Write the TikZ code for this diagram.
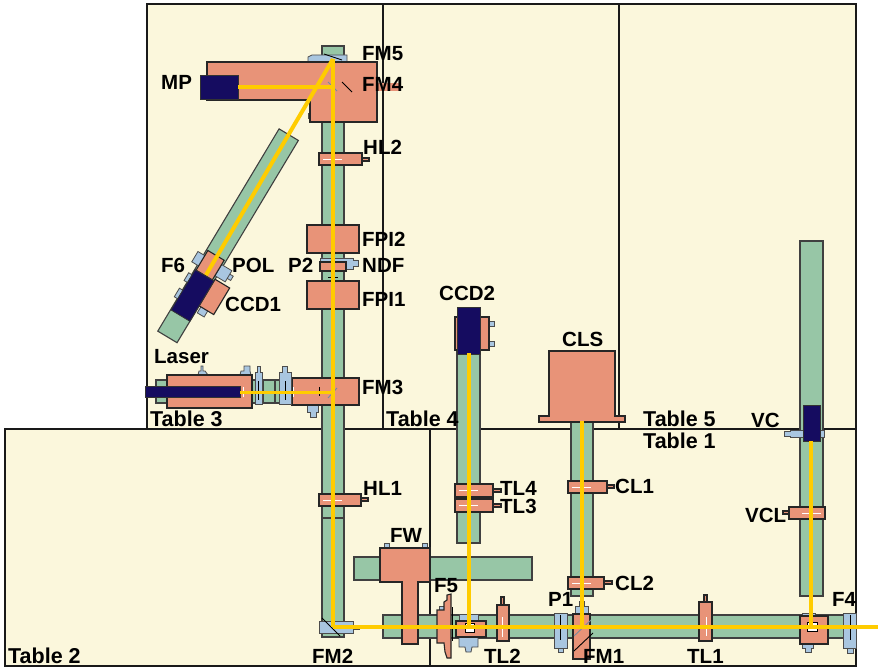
\documentclass[tikz,border=0pt]{standalone}
\usepackage{fontspec}
\setmainfont{Liberation Sans}
\usepackage{tikz}
\usetikzlibrary{positioning}

\definecolor{tablecol}{HTML}{FBF7DC}
\definecolor{railcol}{HTML}{97C6A6}
\definecolor{optcol}{HTML}{E89378}
\definecolor{mountcol}{HTML}{A9C6E0}
\definecolor{camcol}{HTML}{150C60}
\definecolor{beamcol}{HTML}{FFCC00}

\begin{document}
\begin{tikzpicture}[
        x=1pt, y=-1pt,
        line join=miter,
        tablebox/.style={draw=black!90, fill=tablecol, line width=1.2pt},
        rail/.style={draw=black!75, fill=railcol, line width=1.1pt},
        optic/.style={draw=black!85, fill=optcol, line width=1.1pt},
        mount/.style={draw=black!70, fill=mountcol, line width=.8pt},
        camera/.style={draw=black!80, fill=camcol, line width=.8pt},
        glint/.style={draw=white, line width=.8pt},
        mirror/.style={draw=black, line width=.9pt},
        shadow/.style={draw=black!30!mountcol, line width=.9pt},
        beam/.style={draw=beamcol, line width=4pt},
        lbl/.style={anchor=base west, inner sep=0pt, font=\fontsize{20.5}{21}\selectfont\bfseries},
        tablelbl/.style={lbl, font=\fontsize{21.5}{22}\selectfont\bfseries}
    ]
\useasboundingbox (0,0) rectangle (878,668);

% --- tables ---
\draw[tablebox] (147,4) rectangle (383,429);
\draw[tablebox] (383,4) rectangle (619,429);
\draw[tablebox] (619,4) rectangle (856,429);
\draw[tablebox] (5,429) rectangle (430,666);
\draw[tablebox] (430,429) rectangle (856,666);

% --- rails ---
\draw[rail] (322,46) rectangle (344,637);
\draw[rail] (322,518) -- (344,518);
\draw[rail] (156,380) rectangle (330,403);
\draw[rail] (263,380) -- (263,403) (275,380) -- (275,403);
\draw[rail] (457,350) rectangle (480,543);
\draw[rail] (571,421) rectangle (593,596);
\draw[rail] (800,241) rectangle (823,596);
\draw[rail] (354,557) rectangle (532,580);
\draw[rail] (383,615) rectangle (852,638);

% --- arm with CCD1 (tilted) ---
\begin{scope}[shift={(206,275)}, cm={.857,-.514,-.514,-.857,(0,0)}]
    \draw[rail] (-12.5,-73) rectangle (10,163);
    \draw[mount] (-19,4) rectangle (-10,16);
    \draw[mount] (8,4) rectangle (20,17) (20,8) rectangle (24,13);
    \draw[mount] (-16,-16) rectangle (-12,-7);
    \draw[mount] (-16,-35) rectangle (-12,-25);
    \draw[mount] (12,-37) rectangle (20,-29);
    \draw[optic] (-11,-1) rectangle (8,22);
    \draw[optic] (10,-30) rectangle (27,1);
    \draw[camera] (-12,-48) rectangle (10,-1);
\end{scope}

% --- top of main rail: FM5, FM4, MP ---
\draw[mount] (308,57) -- (312,55) -- (347,55) -- (347,62) -- (308,62) -- cycle;
\draw[mount] (308,113) rectangle (312,118);
\fill[optcol] (377,83) rectangle (401,91);
\draw[optic] (207,62) -- (377,62) -- (377,122) -- (310,122) -- (310,100) -- (207,100) -- cycle;
\draw[mirror] (324,54) -- (342,60);
\draw[mirror] (342,82) -- (352,92);
\draw[shadow] (328,82) -- (337,91);
\draw[camera] (200,75) rectangle (238,99);

% --- main rail optics ---
\draw[optic] (362,158) rectangle (369,161);
\draw[optic] (319,153) rectangle (362,165);
\draw[glint] (323,159) -- (342,159);
\draw[optic] (307,225) rectangle (359,253);
\draw[mount] (320,258) -- (353,258) -- (353,260) -- (358,260) -- (358,266) -- (353,266) -- (353,269) -- (346,269) -- (346,263) -- (320,263) -- cycle;
\draw[optic] (320,262) rectangle (346,271);
\draw[mirror] (328,277) -- (338,277);
\draw[optic] (307,281) rectangle (359,309);
\draw[optic] (361,498) rectangle (368,501);
\draw[optic] (319,494) rectangle (361,506);
\draw[glint] (323,500) -- (342,500);

% --- laser and FM3 ---
\draw[mount] (307,405) -- (318,405) -- (318,412) -- (316,412) -- (316,417) -- (310,417) -- (310,412) -- (307,412) -- cycle;
\draw[mount] (198,375) -- (199,371) -- (201,371) -- (201,366) -- (203,366) -- (203,371) -- (205,371) -- (208,375) -- cycle;
\draw[mount] (240,375) -- (241,371) -- (244,371) -- (244,366) -- (250,366) -- (250,371) -- (251,375) -- cycle;
\draw[optic] (167,375) rectangle (252,408);
\draw[optic] (292,378) rectangle (359,405);
\draw[mount] (257,366) -- (260,366) -- (260,372) -- (262,372) -- (262,404) -- (255,404) -- (255,372) -- (257,372) -- cycle;
\draw[mount] (282,366) -- (287,366) -- (287,372) -- (291,372) -- (291,404) -- (279,404) -- (279,372) -- (282,372) -- cycle;
\draw[mirror] (258.5,381) -- (258.5,400) (285,381) -- (285,400);
\draw[mirror] (319,387) -- (319,396);
\draw[shadow] (328,398) -- (337,388);
\draw[glint] (243,387) -- (243,397) (293,387) -- (293,397);
\draw[camera] (145,386) rectangle (240,397);

% --- CCD2 and TL3, TL4 ---
\draw[mount] (489,321) rectangle (494,326) (489,341) rectangle (494,346);
\draw[optic] (455,317) rectangle (489,350);
\draw[camera] (457,307) rectangle (480,354);
\foreach \ypos in {484,499} {
    \draw[optic] (493,\ypos+5) rectangle (501,\ypos+8);
    \draw[optic] (455,\ypos) rectangle (493,\ypos+13);
    \draw[glint] (459,\ypos+6) -- (478,\ypos+6);
}

% --- CLS, CL1, CL2 ---
\draw[optic] (549,351) -- (615,351) -- (615,416) -- (625,416) -- (625,422) -- (539,422) -- (539,416) -- (549,416) -- cycle;
\draw[optic] (607,485) rectangle (614,488);
\draw[optic] (568,481) rectangle (607,493);
\draw[glint] (572,487) -- (591,487);
\draw[optic] (604,581) rectangle (612,584);
\draw[optic] (568,577) rectangle (604,589);
\draw[glint] (572,583) -- (591,583);

% --- VC, VCL ---
\draw[mount] (784,431) -- (790,431) -- (790,430) -- (824,430) -- (824,437) -- (790,437) -- (790,436) -- (784,436) -- cycle;
\draw[camera] (803,405) rectangle (820,441);
\draw[optic] (783,511) rectangle (789,514);
\draw[optic] (789,507) rectangle (825,519);
\draw[glint] (802,513) -- (821,513);

% --- FW ---
\draw[mount] (384,543) rectangle (389,548) (422,543) rectangle (427,548);
\draw[optic] (380,548) -- (430,548) -- (430,582) -- (418,582) -- (418,644) -- (402,644) -- (402,582) -- (380,582) -- cycle;

% --- bottom rail optics ---
\draw[mount] (319,621) -- (353,621) -- (353,633) -- (319,633) -- cycle;
\draw[mount] (353,625) rectangle (359,629);
\draw[mirror] (322,618) -- (340,636);
\draw[mount] (439,606) rectangle (444,611);
\draw[optic] (437,610) -- (444,610) -- (444,602) -- (447,600) -- (447,595) -- (451,594) -- (451,658) -- (447,658) -- (445,652) -- (444,643) -- (437,643) -- cycle;
\draw[mirror] (452,607) -- (452,641);
\draw[mount] (459,614) rectangle (478,621);
\draw[mount] (459,637) -- (478,637) -- (478,647) -- (472,647) -- (471,652) -- (466,652) -- (465,647) -- (459,647) -- cycle;
\draw[optic] (456,621) rectangle (486,637);
\draw[draw=black, fill=white] (465,623) rectangle (474,632);
\draw[optic] (501,597) rectangle (504,605);
\draw[optic] (497,605) rectangle (509,641);
\draw[glint] (502.5,617) -- (502.5,637);
\draw[mount] (558,648) -- (563,648) -- (563,652) -- (558,652) -- cycle;
\draw[mount] (554,613) rectangle (567,648);
\draw[mirror] (560.5,615) -- (560.5,640);
\draw[mount] (579,601) rectangle (584,606) (575,606) rectangle (588,614);
\draw[optic] (573,614) rectangle (590,659);
\draw[mirror] (574,651) -- (593,633);
\draw[shadow] (574,636) -- (591,620);
\draw[optic] (704,595) rectangle (707,602);
\draw[optic] (699,602) rectangle (712,641);
\draw[glint] (706,617) -- (706,636);
\draw[mount] (802,613) rectangle (815,616);
\draw[mount] (802,644) -- (813,644) -- (813,648) -- (811,648) -- (811,652) -- (805,652) -- (805,648) -- (802,648) -- cycle;
\draw[optic] (800,616) rectangle (828,644);
\draw[draw=black, fill=white] (807,622) rectangle (817,631);
\draw[mount] (847,648) rectangle (853,653);
\draw[mount] (843,613) rectangle (856,648);
\draw[mirror] (850,615) -- (850,640);

% --- beam path ---
\coordinate (mpend) at (238,87);
\coordinate (fmfour) at (333,87);
\coordinate (fmfive) at (333,59);
\coordinate (polend) at (206,275);
\coordinate (laserend) at (240,392);
\coordinate (fmthree) at (333,392);
\coordinate (fmtwo) at (333,627);
\coordinate (outend) at (878,627);
\coordinate (ccdtwoend) at (469,353);
\coordinate (ccdtwofoot) at (469,627);
\coordinate (clsend) at (582,421);
\coordinate (clsfoot) at (582,627);
\coordinate (vcend) at (811,441);
\coordinate (vcfoot) at (811,627);

\draw[beam] (fmfive) -- (fmtwo);
\draw[beam] (mpend) -- (fmfour);
\draw[beam] (fmfive) -- (polend);
\draw[beam, line width=3pt] (laserend) -- (fmthree);
\draw[beam] (ccdtwoend) -- (ccdtwofoot);
\draw[beam] (clsend) -- (clsfoot);
\draw[beam] (vcend) -- (vcfoot);
\draw[beam] (fmtwo) -- (outend);

% --- labels ---
\node[lbl] (fmfivelbl) at (362,61) {FM5};
\node[lbl] (fmfourlbl) at (362,92) {FM4};
\node[lbl] (mplbl) at (161,90) {MP};
\node[lbl] (hltwolbl) at (363,155) {HL2};
\node[lbl] (fpitwolbl) at (362,247) {FPI2};
\node[lbl] (ndflbl) at (362,273) {NDF};
\node[lbl] (ptwolbl) at (288,273) {P2};
\node[lbl] (fsixlbl) at (161,273) {F6};
\node[lbl] (pollbl) at (232,273) {POL};
\node[lbl] (fpionelbl) at (362,306) {FPI1};
\node[lbl] (ccdonelbl) at (225,312) {CCD1};
\node[lbl] (ccdtwolbl) at (439,301) {CCD2};
\node[lbl] (clslbl) at (562,346) {CLS};
\node[lbl] (laserlbl) at (154,363) {Laser};
\node[lbl] (fmthreelbl) at (362,394) {FM3};
\node[tablelbl] (tablethreelbl) at (150,426) {Table 3};
\node[tablelbl] (tablefourlbl) at (386,426) {Table 4};
\node[tablelbl] (tablefivelbl) at (643,426) {Table 5};
\node[tablelbl] (tableonelbl) at (643,448) {Table 1};
\node[lbl] (vclbl) at (751,427) {VC};
\node[lbl] (hlonelbl) at (363,495) {HL1};
\node[lbl] (tlfourlbl) at (500,495) {TL4};
\node[lbl] (tlthreelbl) at (500,513) {TL3};
\node[lbl] (clonelbl) at (615,493) {CL1};
\node[lbl] (vcllbl) at (745,522) {VCL};
\node[lbl] (cltwolbl) at (615,590) {CL2};
\node[lbl] (fwlbl) at (390,542) {FW};
\node[lbl] (ffivelbl) at (434,592) {F5};
\node[lbl] (ponelbl) at (548,606) {P1};
\node[lbl] (ffourlbl) at (832,606) {F4};
\node[lbl] (fmtwolbl) at (312,663) {FM2};
\node[lbl] (tltwolbl) at (484,663) {TL2};
\node[lbl] (fmonelbl) at (583,663) {FM1};
\node[lbl] (tlonelbl) at (687,663) {TL1};
\node[tablelbl] (tabletwolbl) at (8,663) {Table 2};
\end{tikzpicture}
\end{document}
